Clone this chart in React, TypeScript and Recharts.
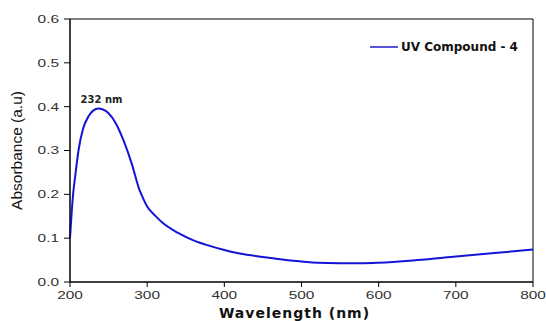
import {
  LabelList,
  Line,
  LineChart,
  ReferenceArea,
  XAxis,
  YAxis,
} from "recharts";

const wavelengths = [
  200, 204, 207, 211, 217, 224, 230, 237, 242, 250, 260, 270, 280, 290, 295,
  300, 310, 320, 340, 360, 380, 400, 420, 450, 480, 500, 520, 550, 580, 600,
  650, 700, 750, 800,
];
const absorbance = [
  0.1, 0.2, 0.245, 0.3, 0.35, 0.378, 0.391, 0.396, 0.394, 0.385, 0.36, 0.32,
  0.27, 0.21, 0.19, 0.172, 0.152, 0.135, 0.112, 0.095, 0.083, 0.073, 0.065,
  0.057, 0.05, 0.047, 0.044, 0.043, 0.043, 0.044, 0.05, 0.058, 0.066, 0.074,
];
const xTicks = [200, 300, 400, 500, 600, 700, 800];
const yTicks = [0, 0.1, 0.2, 0.3, 0.4, 0.5, 0.6];
const seriesName = "UV Compound - 4";
const peakLabel = "232 nm";

const data = wavelengths.map((w, i) => ({ w, a: absorbance[i] }));
const peakIndex = absorbance.indexOf(Math.max(...absorbance));

// labels are stretched sideways like the source image
function XTick(props: any) {
  const { x, y, payload } = props;
  return (
    <text
      x={x}
      y={y + 10}
      textAnchor="middle"
      fontFamily="Liberation Sans"
      fontSize={11}
      fill="#333"
      transform={`translate(${x} 0) scale(1.4 1) translate(${-x} 0)`}
    >
      {payload.value}
    </text>
  );
}

function YTick(props: any) {
  const { x, y, payload } = props;
  return (
    <text
      x={x}
      y={y + 4}
      textAnchor="end"
      fontFamily="Liberation Sans"
      fontSize={11}
      fill="#333"
      transform={`translate(${x} 0) scale(1.4 1) translate(${-x} 0)`}
    >
      {Number(payload.value).toFixed(1)}
    </text>
  );
}

function PeakLabel(props: any) {
  const { x, y, index } = props;
  if (index !== peakIndex) return null;
  return (
    <text
      x={x + 3}
      y={y - 5}
      textAnchor="middle"
      fontFamily="DejaVu Sans"
      fontWeight="bold"
      fontSize={10}
      fill="#222"
    >
      {peakLabel}
    </text>
  );
}

export default function App() {
  return (
    <div style={{ position: "absolute", left: 0, top: 0, width: 546, height: 321 }}>
      <LineChart
        width={546}
        height={321}
        data={data}
        margin={{ top: 19, right: 13, bottom: 9, left: 20 }}
      >
        <XAxis
          dataKey="w"
          type="number"
          domain={[200, 800]}
          ticks={xTicks}
          tick={<XTick />}
          tickSize={5}
          tickMargin={2}
          height={30}
          stroke="#000"
          label={{
            value: "Wavelength (nm)",
            position: "insideBottom",
            offset: -6,
            dx: -7,
            style: {
              fontFamily: "DejaVu Sans",
              fontWeight: "bold",
              fontSize: 14,
              fill: "#111",
              letterSpacing: 1,
            },
          }}
        />
        <YAxis
          type="number"
          domain={[0, 0.6]}
          ticks={yTicks}
          tick={<YTick />}
          tickSize={6}
          tickMargin={5}
          width={50}
          stroke="#000"
          label={{
            value: "Absorbance (a.u)",
            angle: -90,
            position: "insideLeft",
            offset: 0,
            dx: -4,
            style: {
              fontFamily: "Liberation Sans",
              fontSize: 15.5,
              fill: "#111",
              textAnchor: "middle",
            },
          }}
        />
        <ReferenceArea
          x1={200}
          x2={800}
          y1={0}
          y2={0.6}
          stroke="#000"
          fill="none"
        />
        <Line
          type="monotone"
          dataKey="a"
          name={seriesName}
          stroke="#1414d8"
          strokeWidth={2}
          dot={false}
          isAnimationActive={false}
        >
          <LabelList dataKey="a" content={<PeakLabel />} />
        </Line>
      </LineChart>
      <div
        style={{
          position: "absolute",
          left: 370,
          top: 40,
          display: "flex",
          alignItems: "center",
        }}
      >
        <div style={{ width: 28, height: 1.5, background: "#5555dd", marginRight: 3 }} />
        <span
          style={{
            fontFamily: "DejaVu Sans",
            fontWeight: "bold",
            fontSize: 12,
            color: "#111",
            lineHeight: "14px",
          }}
        >
          {seriesName}
        </span>
      </div>
    </div>
  );
}
